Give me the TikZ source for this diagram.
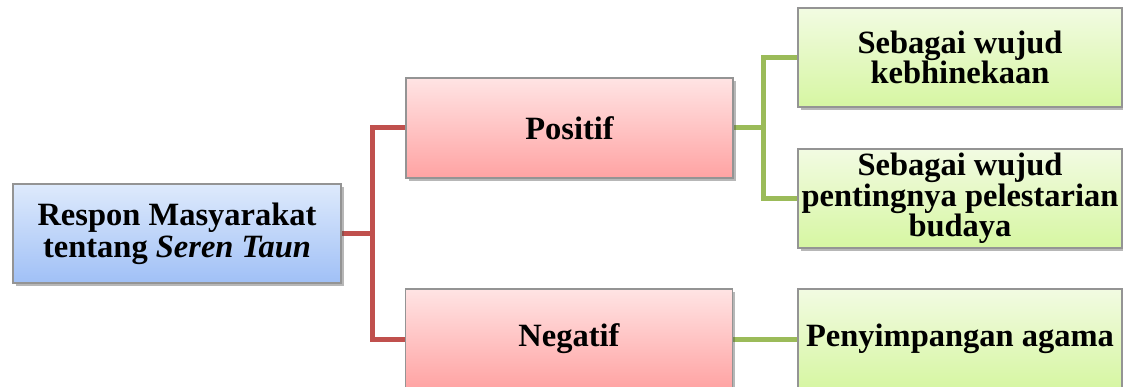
\documentclass[tikz,border=0pt]{standalone}
\usepackage{fontspec}
\setmainfont{Liberation Serif}
\usetikzlibrary{shadows,backgrounds}
\definecolor{redline}{HTML}{C0504D}
\definecolor{greenline}{HTML}{9BBB59}
\definecolor{blueTop}{RGB}{222,234,252}
\definecolor{blueBot}{RGB}{160,192,246}
\definecolor{redTop}{RGB}{255,228,228}
\definecolor{redBot}{RGB}{255,163,163}
\definecolor{greenTop}{RGB}{242,251,226}
\definecolor{greenBot}{RGB}{214,246,162}
\tikzset{
  box/.style={draw=black!42, line width=1.2pt, minimum width=327pt, minimum height=100pt,
    inner sep=0pt, align=center, text=black,
    font=\fontsize{32.5}{28}\selectfont\bfseries,
    drop shadow={shadow xshift=2.5pt, shadow yshift=-3pt, opacity=0.4, fill=black!70}},
  bluebox/.style={box, top color=blueTop, bottom color=blueBot},
  redbox/.style={box, top color=redTop, bottom color=redBot},
  greenbox/.style={box, top color=greenTop, bottom color=greenBot, minimum width=324pt},
  redconn/.style={draw=redline, line width=5pt},
  greenconn/.style={draw=greenline, line width=5pt}
}
\begin{document}
\begin{tikzpicture}[x=1pt,y=-1pt]
\useasboundingbox (0,0) rectangle (1123,387);
\node[bluebox, minimum width=328pt, minimum height=99pt, font=\fontsize{32.5}{32}\selectfont\bfseries] (root) at (177,233.5) {Respon Masyarakat\\tentang \textit{Seren Taun}};
\node[redbox] (pos) at (569.5,128) {Positif};
\node[redbox] (neg) at (569,339) {Negatif};
\node[greenbox, minimum height=99pt] (g1) at (960,57.5) {Sebagai wujud\\kebhinekaan};
\node[greenbox, minimum height=99pt] (g2) at (960,198.5) {Sebagai wujud\\pentingnya pelestarian\\budaya};
\node[greenbox] (g3) at (960,339) {Penyimpangan agama};
\coordinate (rj) at (372,233.5);
\coordinate (gj) at (763,128);
\begin{scope}[on background layer]
\draw[redconn] (root.east) -- (rj);
\draw[redconn] (pos.west) -| (rj) |- (neg.west);
\draw[greenconn] (pos.east) -- (gj);
\draw[greenconn] (g1.west) -| (gj) |- (g2.west);
\draw[greenconn] (neg.east) -- (g3.west);
\end{scope}
\end{tikzpicture}
\end{document}
